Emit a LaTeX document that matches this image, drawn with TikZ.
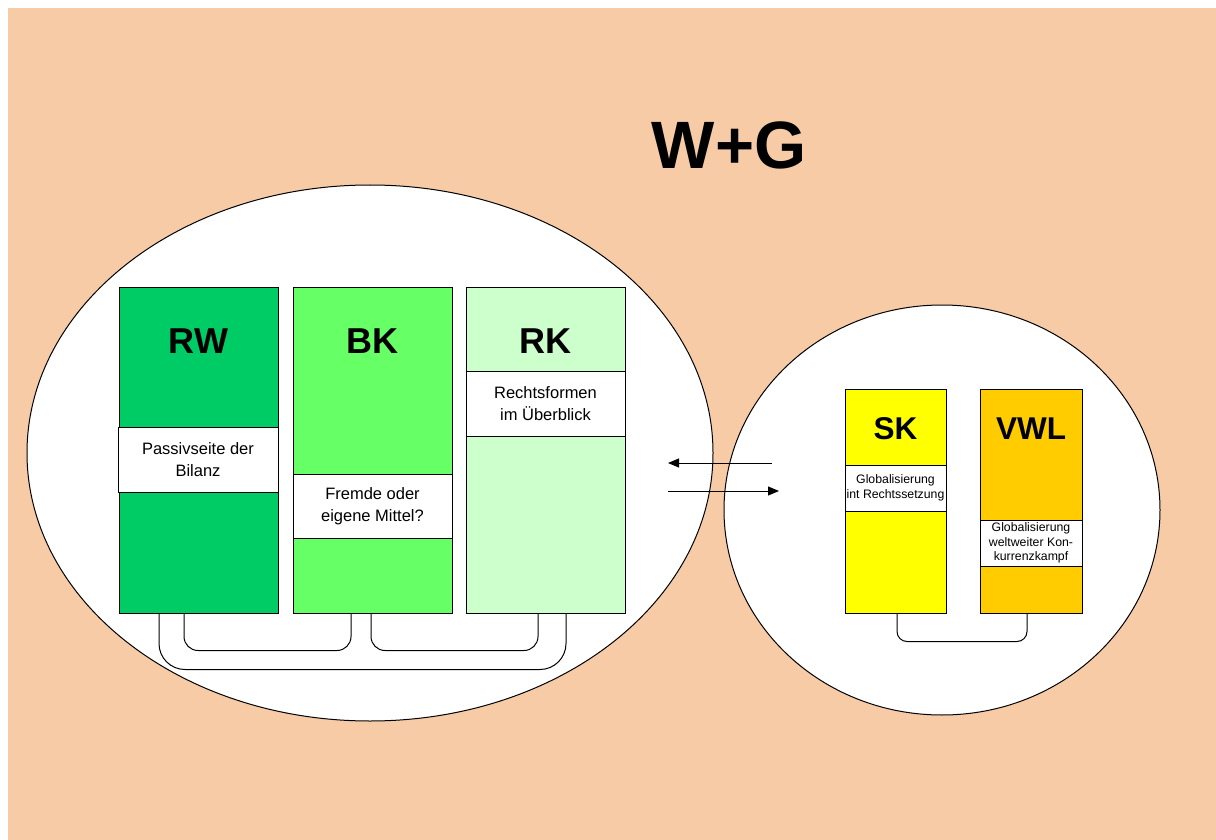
\documentclass[tikz,border=0pt]{standalone}
\usepackage{fontspec}
\setmainfont{Liberation Sans}
\usetikzlibrary{arrows.meta}
\definecolor{peach}{RGB}{248,203,167}
\definecolor{rwgreen}{RGB}{0,204,102}
\definecolor{bkgreen}{RGB}{102,255,102}
\definecolor{rkgreen}{RGB}{204,255,204}
\definecolor{skyellow}{RGB}{255,255,0}
\definecolor{vwlorange}{RGB}{255,204,0}
\tikzset{
	fach/.style={draw, line width=1pt, minimum width=159pt, minimum height=326pt, inner sep=0pt},
	kfach/.style={draw, line width=1pt, minimum width=102pt, minimum height=224pt, inner sep=0pt},
	kuerzel/.style={font=\fontsize{36}{40}\selectfont\bfseries},
	kkuerzel/.style={font=\fontsize{31.5}{36}\selectfont\bfseries},
	thema/.style={draw, fill=white, line width=1pt, minimum width=160pt, minimum height=65pt, align=center, font=\fontsize{16.5}{22}\selectfont},
	kthema/.style={draw, fill=white, line width=1pt, minimum width=102pt, minimum height=46pt, inner sep=1pt, align=center, font=\fontsize{12.3}{14.5}\selectfont},
	bogen/.style={line width=1pt, rounded corners=14pt},
	pfeil/.style={line width=1pt, -{Triangle[length=11pt,width=9pt]}}
}
\begin{document}
\begin{tikzpicture}[x=1pt,y=-1pt]
	\useasboundingbox (0,0) rectangle (1216,840);
	\fill[peach] (8,8) rectangle (1216,840);
	\node[font=\fontsize{67}{80}\selectfont\bfseries] (titel) at (729,145) {W+G};
	% die zwei Kreise
	\draw[fill=white, line width=1pt] (370,453) ellipse [x radius=343, y radius=268];
	\draw[fill=white, line width=1pt] (942,510) ellipse [x radius=218, y radius=205];
	% Faecher links
	\node[fach, fill=rwgreen] (rw) at (198.5,450) {};
	\node[fach, fill=bkgreen] (bk) at (372.5,450) {};
	\node[fach, fill=rkgreen] (rk) at (545.5,450) {};
	\node[kuerzel] (rwt) at (198.5,341) {RW};
	\node[kuerzel] (bkt) at (372.5,341) {BK};
	\node[kuerzel] (rkt) at (545.5,341) {RK};
	\node[thema] (rwth) at (198,459.5) {Passivseite der\\Bilanz};
	\node[thema, minimum width=159pt, minimum height=64pt] (bkth) at (372.5,506) {Fremde oder\\eigene Mittel?};
	\node[thema, minimum width=159pt] (rkth) at (545.5,403.5) {Rechtsformen\\im Überblick};
	% Faecher rechts
	\node[kfach, fill=skyellow, minimum width=101pt] (sk) at (895.5,501) {};
	\node[kfach, fill=vwlorange] (vwl) at (1031,501) {};
	\node[kkuerzel] (skt) at (895.5,429) {SK};
	\node[kkuerzel] (vwlt) at (1031,429) {VWL};
	\node[kthema, minimum width=101pt] (skth) at (895.5,488) {Globalisierung\\int Rechtssetzung};
	\node[kthema] (vwlth) at (1031,543) {Globalisierung\\weltweiter Kon-\\kurrenzkampf};
	% Verbindungen
	\draw[bogen] ([xshift=-14.5pt]rw.south) -- ++(0,37) -| ([xshift=-21.5pt]bk.south);
	\draw[bogen] ([xshift=-1.5pt]bk.south) -- ++(0,37) -| ([xshift=-7.5pt]rk.south);
	\draw[bogen, rounded corners=26pt] ([xshift=-39.5pt]rw.south) -- ++(0,56) -| ([xshift=20.5pt]rk.south);
	\draw[bogen, rounded corners=10pt] ([xshift=1.5pt]sk.south) -- ++(0,28) -| ([xshift=-4pt]vwl.south);
	% Pfeile zwischen den Kreisen
	\coordinate (p1) at (772,463);
	\coordinate (p2) at (668,463);
	\coordinate (q1) at (668,491);
	\coordinate (q2) at (779,491);
	\draw[pfeil] (p1) -- (p2);
	\draw[pfeil] (q1) -- (q2);
\end{tikzpicture}
\end{document}
